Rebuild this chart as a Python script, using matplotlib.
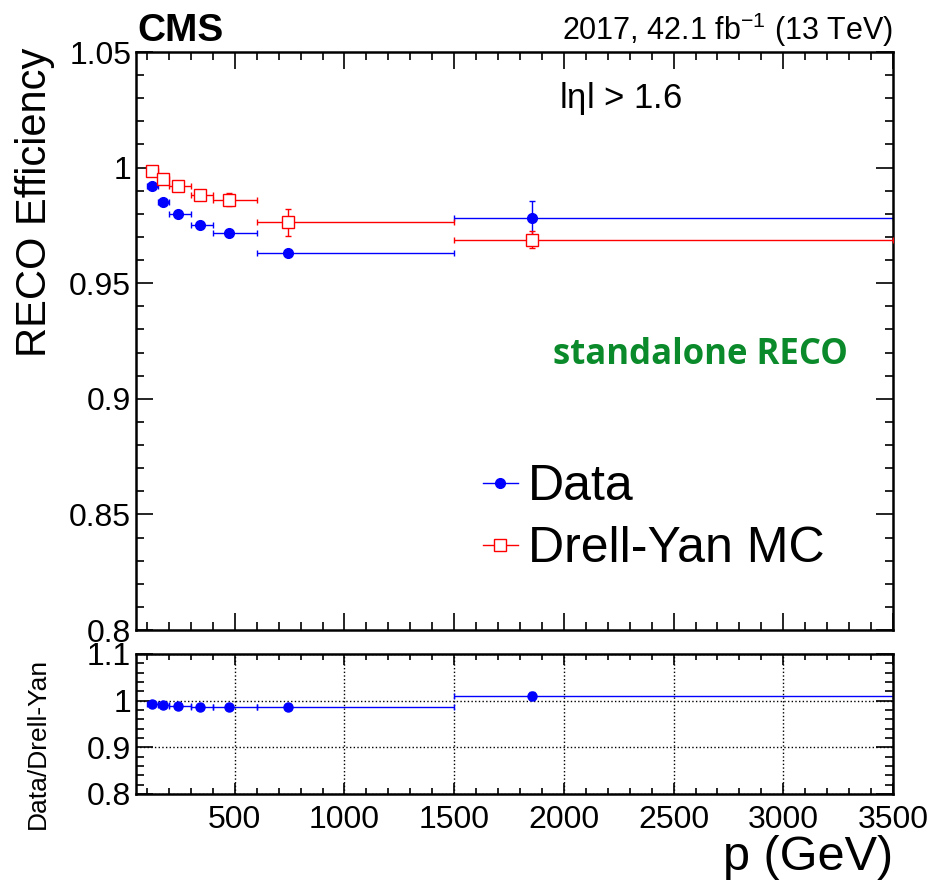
import numpy as np
import matplotlib
matplotlib.use('Agg')
import matplotlib.pyplot as plt
from matplotlib.ticker import MultipleLocator
from matplotlib.lines import Line2D

plt.rcParams['font.family'] = ['Liberation Sans', 'DejaVu Sans']
plt.rcParams['mathtext.fontset'] = 'custom'
plt.rcParams['mathtext.rm'] = 'Liberation Sans'
plt.rcParams['mathtext.it'] = 'Liberation Sans'

# bins in p (GeV) and the mean p of each bin
bin_lo = [100, 150, 200, 300, 400, 600, 1500]
bin_hi = [150, 200, 300, 400, 600, 1500, 3500]
p_mean = [123, 173, 241, 341, 473, 741, 1855]

# efficiencies
eff_data = [0.9922, 0.9853, 0.9800, 0.9753, 0.9719, 0.9629, 0.9780]
err_data_lo = [0.0008, 0.0008, 0.0008, 0.0008, 0.0009, 0.0010, 0.0107]
err_data_hi = [0.0008, 0.0008, 0.0008, 0.0008, 0.0009, 0.0010, 0.0076]

eff_mc = [0.9984, 0.9951, 0.9922, 0.9883, 0.9862, 0.9763, 0.9689]
err_mc = [0.0008, 0.0010, 0.0012, 0.0015, 0.0027, 0.0058, 0.0036]

# ratio data / Drell-Yan
ratio = [0.9938, 0.9902, 0.9877, 0.9868, 0.9855, 0.9863, 1.0094]
ratio_err = [0.0010, 0.0010, 0.0012, 0.0015, 0.0028, 0.0060, 0.0085]

xerr = [np.subtract(p_mean, bin_lo), np.subtract(bin_hi, p_mean)]

fig = plt.figure(figsize=(9.4, 8.83), dpi=100)
ax = fig.add_axes([0.1447, 0.2865, 0.8053, 0.6546])
axr = fig.add_axes([0.1447, 0.1008, 0.8053, 0.1586])

ax.errorbar(p_mean, eff_data, xerr=xerr, yerr=[err_data_lo, err_data_hi],
            fmt='o', color='blue', ms=7, lw=1, capsize=2)
ax.errorbar(p_mean, eff_mc, xerr=xerr, yerr=err_mc,
            fmt='s', color='red', mfc='white', mec='red', ms=9, lw=1,
            capsize=2, zorder=3)

axr.errorbar(p_mean, ratio, xerr=xerr, yerr=ratio_err,
             fmt='o', color='blue', ms=6.5, lw=1, capsize=2)

for a in (ax, axr):
    a.set_xlim(50, 3500)
    a.xaxis.set_major_locator(MultipleLocator(500))
    a.xaxis.set_minor_locator(MultipleLocator(100))
    a.tick_params(which='both', direction='in', top=True, right=True, width=1.2)
    a.tick_params(which='major', length=12)
    a.tick_params(which='minor', length=6)
    a.tick_params(labelsize=23)
    for s in a.spines.values():
        s.set_linewidth(1.8)

ax.set_ylim(0.8, 1.05)
ax.yaxis.set_minor_locator(MultipleLocator(0.01))
ax.set_yticks([0.8, 0.85, 0.9, 0.95, 1.0, 1.05])
ax.set_yticklabels(['0.8', '0.85', '0.9', '0.95', '1', '1.05'])
ax.tick_params(labelbottom=False)
ax.set_ylabel('RECO Efficiency', fontsize=30)
ax.yaxis.set_label_coords(-0.107, 0.74)

axr.set_ylim(0.8, 1.1)
axr.set_yticks([0.8, 0.9, 1.0, 1.1])
axr.set_yticklabels(['0.8', '0.9', '1', '1.1'])
axr.yaxis.set_minor_locator(MultipleLocator(0.02))
axr.tick_params(axis='x', which='major', length=8)
axr.tick_params(axis='x', which='minor', length=4)
axr.tick_params(axis='x', labelsize=23, pad=8)
axr.grid(True, which='major', linestyle=':', color='black', lw=1)
axr.set_ylabel('Data/Drell-Yan', fontsize=19)
axr.yaxis.set_label_coords(-0.114, 0.36)
axr.set_xlabel('p (GeV)', fontsize=35, loc='right', labelpad=0)

fig.text(0.146, 0.945, 'CMS', fontsize=28, fontweight='bold', va='bottom')
fig.text(0.95, 0.945, r'2017, 42.1 fb$^{-1}$ (13 TeV)', fontsize=22,
         ha='right', va='bottom')
ax.text(0.64, 0.92, 'l$\\eta$l > 1.6', transform=ax.transAxes, fontsize=25,
        ha='center', va='center')
ax.text(0.745, 0.475, 'standalone RECO', transform=ax.transAxes, fontsize=25,
        fontweight='bold', color='#0a8a2a', ha='center', va='center',
        family=['Open Sans', 'DejaVu Sans'])

handles = [Line2D([], [], color='blue', marker='o', ms=7, lw=1),
           Line2D([], [], color='red', marker='s', mfc='white', mec='red',
                  ms=9, lw=1)]
ax.legend(handles, ['Data', 'Drell-Yan MC'], loc='center left',
          bbox_to_anchor=(0.458, 0.193), fontsize=36, frameon=False,
          borderpad=0, borderaxespad=0,
          handlelength=0.7, handletextpad=0.2, labelspacing=0.32)

fig.savefig('out.png', dpi=100)
